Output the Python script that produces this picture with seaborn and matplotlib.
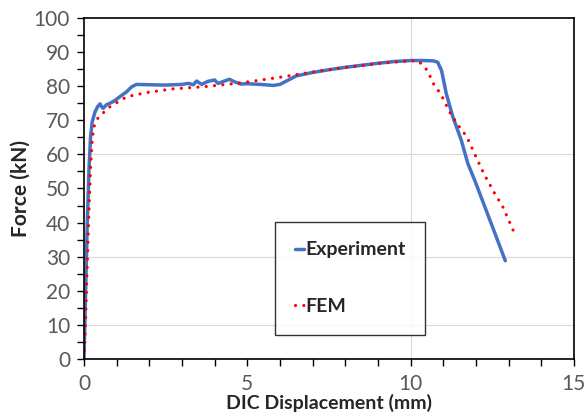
import matplotlib
matplotlib.use("Agg")
import matplotlib.pyplot as plt
import seaborn as sns
import pandas as pd
from matplotlib.ticker import MultipleLocator

# =========================
# DATA
# =========================
exp_disp = [0, 0.05, 0.1, 0.15, 0.2, 0.25, 0.34, 0.42, 0.49, 0.55, 0.59, 0.68, 0.8,
            0.95, 1.1, 1.3, 1.46, 1.61, 2.0, 2.5, 3.0, 3.2, 3.35, 3.45, 3.6, 3.8,
            4.0, 4.1, 4.25, 4.45, 4.6, 4.8, 5.0, 5.4, 5.8, 6.0, 6.2, 6.5, 7.0,
            7.5, 8.0, 8.5, 9.0, 9.5, 10.0, 10.4, 10.7, 10.83, 10.95, 11.09,
            11.29, 11.55, 11.75, 12.0, 12.31, 12.62, 12.9]
exp_force = [0, 20, 40, 55, 65, 69.5, 72.5, 74, 74.8, 73.8, 73.5, 74.5, 75,
             75.8, 76.9, 78.3, 79.8, 80.5, 80.4, 80.3, 80.5, 80.8, 80.4, 81.5, 80.5, 81.4,
             81.8, 80.8, 81.3, 82, 81.3, 80.6, 80.7, 80.5, 80.2, 80.5, 81.5, 83, 84,
             84.8, 85.5, 86.1, 86.7, 87.2, 87.5, 87.5, 87.4, 87.0, 84.5, 77.9,
             71.1, 64.2, 57.4, 51.5, 43.7, 35.9, 28.8]

fem_disp = [0, 0.05, 0.1, 0.15, 0.2, 0.25, 0.3, 0.44, 0.8, 1.31, 1.92, 2.73, 3.65,
            4.67, 5.28, 6.0, 7.0, 8.0, 9.0, 9.7, 10.2, 10.38, 10.53, 10.68, 10.94,
            11.19, 11.45, 11.72, 12.0, 12.26, 12.57, 12.82, 13.16]
fem_force = [0, 12, 28, 43, 56, 64, 68, 70.9, 74.0, 76.9, 78.1, 79.2, 79.8,
             80.8, 81.6, 82.6, 84.1, 85.5, 86.6, 87.2, 87.5, 86.2, 84.3, 81.0, 77.4,
             72.5, 68.6, 65.2, 59.3, 54.0, 48.6, 44.7, 37.3]

grid_y = [10, 30, 60]
grid_x = [10]

exp_df = pd.DataFrame({"disp": exp_disp, "force": exp_force})
fem_df = pd.DataFrame({"disp": fem_disp, "force": fem_force})

sns.set_style("white")
plt.rcParams["font.family"] = ["Lato", "DejaVu Sans"]

fig = plt.figure(figsize=(5.85, 4.16), dpi=100)
ax = fig.add_axes([0.1436, 0.137, 0.8374, 0.82])

for g in grid_y:
    ax.axhline(g, color="#d9d9d9", lw=0.8, zorder=0)
for g in grid_x:
    ax.axvline(g, color="#d9d9d9", lw=0.8, zorder=0)

sns.lineplot(data=exp_df, x="disp", y="force", sort=False, ax=ax,
             color="#4472C4", lw=2.5, label="Experiment")
sns.lineplot(data=fem_df, x="disp", y="force", sort=False, ax=ax,
             color="#FF0000", lw=2.3, linestyle=(0, (0.01, 2.6)),
             dash_capstyle="round", label="FEM")

ax.set_xlim(0, 15)
ax.set_ylim(0, 100)
ax.xaxis.set_major_locator(MultipleLocator(5))
ax.xaxis.set_minor_locator(MultipleLocator(1))
ax.yaxis.set_major_locator(MultipleLocator(10))
ax.yaxis.set_minor_locator(MultipleLocator(5))
ax.tick_params(which="both", direction="out", color="black", left=True, bottom=True)
ax.tick_params(which="major", length=5, width=1, labelsize=15, labelcolor="#595959")
ax.tick_params(which="minor", length=5, width=1)
ax.tick_params(axis="x", pad=6)
ax.tick_params(axis="y", pad=5)

for s in ax.spines.values():
    s.set_color("black")
    s.set_linewidth(1.2)

ax.set_xlabel("DIC Displacement (mm)", fontsize=14, fontweight="bold", labelpad=0)
ax.set_ylabel("Force (kN)", fontsize=15, fontweight="bold", labelpad=2)

leg = ax.legend(loc="upper left", bbox_to_anchor=(0.39, 0.402), borderaxespad=0,
                frameon=True, fancybox=False, edgecolor="black", fontsize=14,
                handlelength=0.5, handletextpad=0.05, labelspacing=2.05,
                borderpad=1.0)
leg.get_frame().set_linewidth(1.0)
for t in leg.get_texts():
    t.set_fontweight("bold")

fig.savefig("out.png", dpi=100)
